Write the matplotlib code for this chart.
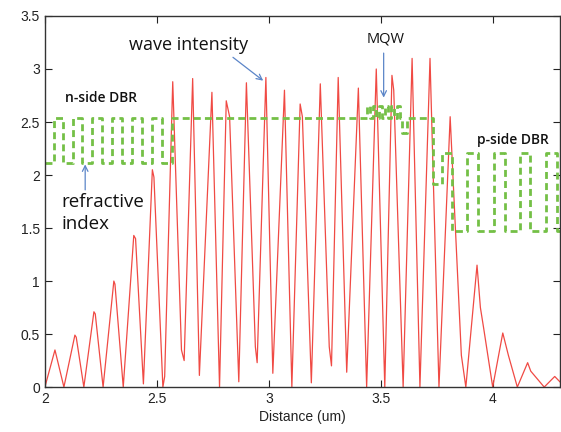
import numpy as np
import matplotlib
matplotlib.use('Agg')
import matplotlib.pyplot as plt

# wave intensity samples (distance in um, intensity)
dist = [2.0, 2.045, 2.085, 2.134, 2.14, 2.174, 2.219, 2.225, 2.26, 2.308, 2.313,
        2.35, 2.397, 2.405, 2.44, 2.48, 2.487, 2.527, 2.535, 2.571, 2.61, 2.622,
        2.66, 2.69, 2.746, 2.78, 2.81, 2.825, 2.866, 2.90, 2.94, 2.948, 2.987,
        3.018, 3.07, 3.103, 3.14, 3.15, 3.19, 3.23, 3.27, 3.28, 3.31, 3.348,
        3.40, 3.437, 3.48, 3.518, 3.55, 3.558, 3.60, 3.64, 3.675, 3.72, 3.76,
        3.81, 3.86, 3.88, 3.93, 3.945, 3.96, 4.0, 4.045, 4.07, 4.11, 4.156,
        4.17, 4.23, 4.277, 4.3]
intensity = [0.0, 0.35, 0.0, 0.49, 0.47, 0.0, 0.71, 0.69, 0.0, 1.0, 0.97,
             0.0, 1.43, 1.40, 0.03, 2.05, 1.98, 0.0, 0.1, 2.88, 0.35, 0.25,
             2.91, 0.11, 2.78, 0.0, 2.70, 2.55, 0.05, 2.87, 0.38, 0.23, 2.92,
             0.13, 2.80, 0.0, 2.67, 2.55, 0.04, 2.86, 0.38, 0.2, 2.92, 0.14,
             2.82, 0.0, 3.0, 0.0, 2.94, 2.80, 0.0, 3.10, 0.0, 3.10, 0.0,
             2.55, 0.3, 0.0, 1.15, 0.75, 0.55, 0.0, 0.51, 0.3, 0.0, 0.23,
             0.15, 0.0, 0.10, 0.05]

# refractive index profile: layer start positions and index values
layer_start = [2.0, 2.04, 2.08, 2.125, 2.165, 2.21, 2.255, 2.30, 2.345, 2.39,
               2.435, 2.48, 2.525, 2.567,
               3.44, 3.453, 3.466, 3.479, 3.493, 3.506, 3.519, 3.532, 3.546,
               3.559, 3.572, 3.585,
               3.594, 3.616, 3.732, 3.772, 3.817, 3.886, 3.935, 4.006, 4.056,
               4.12, 4.167, 4.239, 4.288, 4.3]
layer_index = [2.11, 2.54, 2.11, 2.54, 2.11, 2.54, 2.11, 2.54, 2.11, 2.54,
               2.11, 2.54, 2.11, 2.54,
               2.65, 2.54, 2.65, 2.54, 2.65, 2.54, 2.65, 2.54, 2.65,
               2.54, 2.65, 2.54,
               2.40, 2.54, 1.92, 2.21, 1.47, 2.21, 1.47, 2.21, 1.47,
               2.21, 1.47, 2.21, 1.47, 1.47]

fig = plt.figure(figsize=(5.61, 4.32), dpi=100)
ax = fig.add_axes([0.080, 0.104, 0.918, 0.859])

ax.plot(dist, intensity, color='#f04a44', lw=0.9)
ax.plot(layer_start, layer_index, drawstyle='steps-post', color='#74c046',
        lw=2.0, dashes=(2.5, 1.5))

ax.set_xlim(2, 4.3)
ax.set_ylim(0, 3.5)
ax.set_xticks([2, 2.5, 3, 3.5, 4])
ax.set_xticklabels(['2', '2.5', '3', '3.5', '4'])
ax.set_yticks([0, 0.5, 1, 1.5, 2, 2.5, 3, 3.5])
ax.set_yticklabels(['0', '0.5', '1', '1.5', '2', '2.5', '3', '3.5'])
ax.tick_params(direction='in', top=True, right=True, length=5,
               labelsize=10, colors='#222222')
for lbl in ax.get_xticklabels() + ax.get_yticklabels():
    lbl.set_family('Liberation Sans')
for s in ax.spines.values():
    s.set_color('#333333')
    s.set_linewidth(1.0)
ax.set_xlabel('Distance (um)', fontsize=10, family='Liberation Sans',
              color='#222222', labelpad=3)

arrow = dict(arrowstyle='->', color='#5b85c8', lw=0.9, shrinkA=0, shrinkB=0)
txt = dict(family='Open Sans', color='#111111')

ax.text(2.64, 3.23, 'wave intensity', fontsize=13, ha='center', va='center', **txt)
ax.annotate('', xy=(2.975, 2.89), xytext=(2.84, 3.11), arrowprops=arrow)

ax.text(3.52, 3.28, 'MQW', fontsize=10.5, ha='center', va='center', **txt)
ax.annotate('', xy=(3.513, 2.73), xytext=(3.513, 3.15), arrowprops=arrow)

ax.text(2.25, 2.73, 'n-side DBR', fontsize=10, ha='center', va='center',
        weight='semibold', **txt)
ax.text(4.09, 2.33, 'p-side DBR', fontsize=10, ha='center', va='center',
        weight='semibold', **txt)

ax.text(2.075, 1.64, 'refractive\nindex', fontsize=13.5, ha='left', va='center',
        linespacing=1.25, **txt)
ax.annotate('', xy=(2.18, 2.10), xytext=(2.18, 1.86), arrowprops=arrow)

fig.savefig('out.png', dpi=100)
